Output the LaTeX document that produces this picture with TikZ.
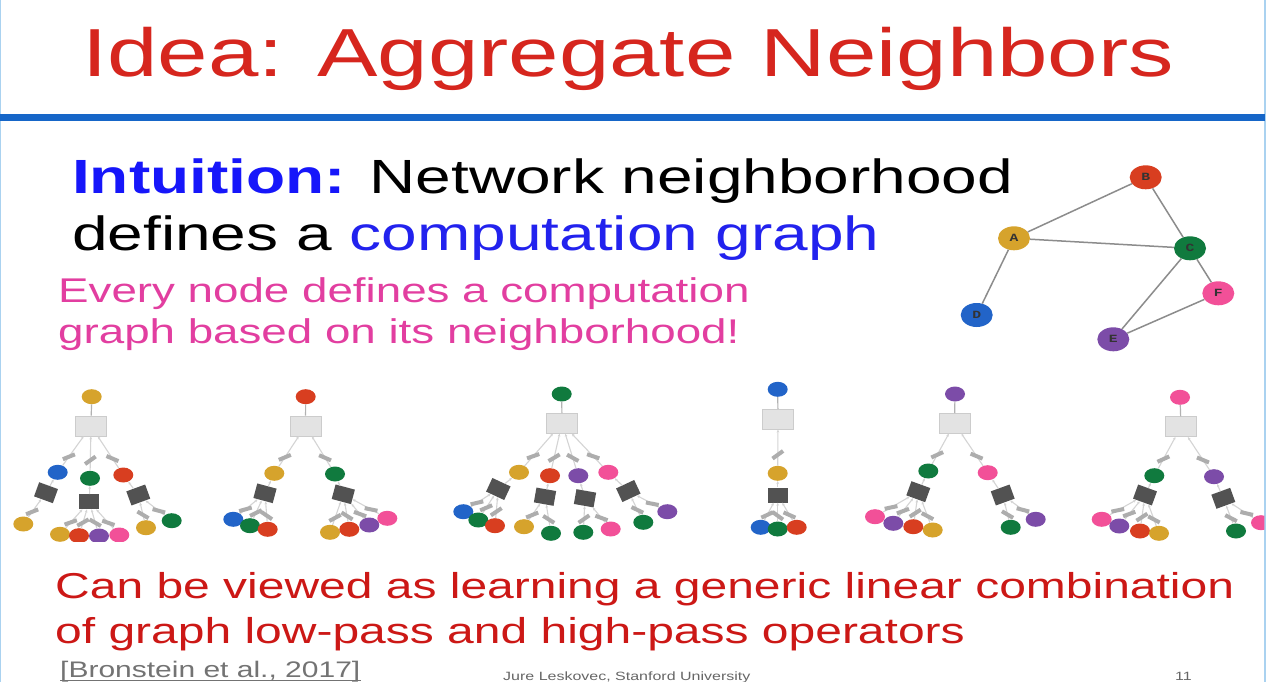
\documentclass[tikz,border=0pt]{standalone}
\usepackage{fontspec}
\setmainfont{Liberation Sans}[FakeStretch=1.333]
\newfontfamily\lblfont{Liberation Mono}[FakeStretch=1.333]
\usetikzlibrary{shapes.geometric,arrows.meta,calc}

\definecolor{cgold}{RGB}{214,163,44}
\definecolor{cred}{RGB}{216,62,32}
\definecolor{cgreen}{RGB}{16,122,62}
\definecolor{cblue}{RGB}{34,100,200}
\definecolor{cpurple}{RGB}{124,76,168}
\definecolor{cpink}{RGB}{242,80,152}
\definecolor{titlered}{RGB}{214,38,30}
\definecolor{textred}{RGB}{204,24,22}
\definecolor{introblue}{RGB}{22,22,250}
\definecolor{compblue}{RGB}{34,34,238}
\definecolor{textpink}{RGB}{226,62,160}
\definecolor{rulebblue}{RGB}{22,102,200}
\definecolor{edgelightblue}{RGB}{170,210,240}

% tree node helpers
\newcommand\tnode[4]{\node[cn,fill=#2] (#1) at (#3,#4) {};}
\newcommand\sqnode[4]{\node[sq,rotate=#4] (#1) at (#2,#3) {};}
% weighted link with a small bar, tilted part way along the link direction
\newcommand\lnk[2]{\draw[tedge] let \p1=($(#2)-(#1)$), \n1={atan2(\y1,\x1)},
  \n2={0.4*(\n1+180*(\n1<-90)-180*(\n1>90))} in (#1) -- node[tbar,rotate=\n2]{} (#2);}
\newcommand\slnk[2]{\draw[tedge] (#1) -- (#2);}

\begin{document}
\begin{tikzpicture}[x=1pt,y=-1pt,
  txt/.style={inner sep=0pt,anchor=base west},
  cn/.style={ellipse,minimum width=20,minimum height=15,inner sep=0pt},
  gnode/.style={ellipse,minimum width=32,minimum height=24,inner sep=0pt,
    font=\lblfont\bfseries\fontsize{11}{11}\selectfont,text=black!80},
  gedge/.style={draw=black!45,line width=1.5pt},
  lrect/.style={rectangle,minimum width=31,minimum height=20,fill=black!11,draw=black!20,line width=0.6pt},
  sq/.style={rectangle,minimum width=20,minimum height=15,fill=black!68,inner sep=0pt},
  tbar/.style={rectangle,minimum width=13,minimum height=4,inner sep=0pt,fill=black!32,pos=0.7},
  tedge/.style={draw=black!17,line width=1.1pt,{Stealth[length=3pt,width=2.6pt]}-},
  rootln/.style={draw=black!30,line width=1.2pt}]

\useasboundingbox (0,0) rectangle (1268,682);
\fill[white] (0,0) rectangle (1268,682);
% frame and rule
\draw[edgelightblue,line width=1.2pt] (0.6,0) -- (0.6,682);
\draw[edgelightblue,line width=1.2pt] (1265,0) -- (1265,682);
\fill[rulebblue] (0,114) rectangle (1265,121);

% title
\node[inner sep=0pt,anchor=base,text=titlered,font=\fontsize{68}{68}\selectfont] (title) at (628,77) {Idea: Aggregate Neighbors};

% body text
\node[txt,font=\fontsize{48}{48}\selectfont] (l1) at (72,193) {\textcolor{introblue}{\bfseries Intuition:} Network neighborhood};
\node[txt,font=\fontsize{48}{48}\selectfont] (l2) at (72,250) {defines a \textcolor{compblue}{computation graph}};
\node[txt,text=textpink,font=\fontsize{34.3}{34.3}\selectfont] (p1) at (58,302) {Every node defines a computation};
\node[txt,text=textpink,font=\fontsize{34.3}{34.3}\selectfont] (p2) at (58,343) {graph based on its neighborhood!};
\node[txt,text=textred,font=\fontsize{36}{36}\selectfont] (r1) at (55,598) {Can be viewed as learning a generic linear combination};
\node[txt,text=textred,font=\fontsize{36}{36}\selectfont] (r2) at (55,643) {of graph low-pass and high-pass operators};
\node[txt,text=black!55,font=\fontsize{22.5}{22.5}\selectfont] (cite) at (60,677) {[Bronstein et al., 2017]};
\draw[black!55,line width=1pt] ($(cite.base west)+(0,3)$) -- ($(cite.base east)+(0,3)$);
\node[txt,text=black!60,font=\fontsize{12}{12}\selectfont] (auth) at (503,680) {Jure Leskovec, Stanford University};
\node[txt,text=black!60,font=\fontsize{12}{12}\selectfont] (pg) at (1175,680) {11};

% input graph
\node[gnode,fill=cred] (B) at (1145.7,177.3) {B};
\node[gnode,fill=cgold] (A) at (1014,238.3) {A};
\node[gnode,fill=cgreen] (C) at (1190,248.3) {C};
\node[gnode,fill=cpink] (F) at (1218.3,293.3) {F};
\node[gnode,fill=cblue] (D) at (976.7,315) {D};
\node[gnode,fill=cpurple] (E) at (1113.3,339.3) {E};
\draw[gedge] (A) -- (B);
\draw[gedge] (A) -- (C);
\draw[gedge] (B) -- (C);
\draw[gedge] (A) -- (D);
\draw[gedge] (C) -- (F);
\draw[gedge] (C) -- (E);
\draw[gedge] (E) -- (F);

\begin{scope}
\clip (1.5,375) rectangle (1264.4,541);
% ---- tree rooted at A
\tnode{ar}{cgold}{91.7}{396.7}
\node[lrect] (am) at (91,426) {};
\draw[rootln] (ar) -- (am);
\tnode{a1}{cblue}{57.7}{472.3}
\tnode{a2}{cgreen}{90}{478.3}
\tnode{a3}{cred}{123.3}{475}
\lnk{am}{a1}\lnk{am}{a2}\lnk{am}{a3}
\sqnode{a1s}{46}{492.7}{-20}
\sqnode{a2s}{89.3}{501.7}{0}
\sqnode{a3s}{138.3}{495}{20}
\slnk{a1}{a1s}\slnk{a2}{a2s}\slnk{a3}{a3s}
\tnode{a11}{cgold}{23.3}{524}
\tnode{a21}{cgold}{60}{534.3}
\tnode{a22}{cred}{79}{535.7}
\tnode{a23}{cpurple}{99}{536}
\tnode{a24}{cpink}{119.3}{535}
\tnode{a31}{cgold}{146}{527.7}
\tnode{a32}{cgreen}{171.7}{520.7}
\lnk{a1s}{a11}
\lnk{a2s}{a21}\lnk{a2s}{a22}\lnk{a2s}{a23}\lnk{a2s}{a24}
\lnk{a3s}{a31}\lnk{a3s}{a32}

% ---- tree rooted at B
\tnode{br}{cred}{305.7}{396.7}
\node[lrect] (bm) at (305.5,426) {};
\draw[rootln] (br) -- (bm);
\tnode{b1}{cgold}{274.3}{473.3}
\tnode{b2}{cgreen}{335}{474}
\lnk{bm}{b1}\lnk{bm}{b2}
\sqnode{b1s}{265}{493.3}{-15}
\sqnode{b2s}{343.3}{494.3}{-15}
\slnk{b1}{b1s}\slnk{b2}{b2s}
\tnode{b11}{cblue}{233.3}{519.3}
\tnode{b12}{cgreen}{250}{525.7}
\tnode{b13}{cred}{267.7}{529.3}
\tnode{b21}{cgold}{330}{532.3}
\tnode{b22}{cred}{349.3}{529.3}
\tnode{b23}{cpurple}{369.3}{525}
\tnode{b24}{cpink}{387.3}{518.3}
\lnk{b1s}{b11}\lnk{b1s}{b12}\lnk{b1s}{b13}
\lnk{b2s}{b21}\lnk{b2s}{b22}\lnk{b2s}{b23}\lnk{b2s}{b24}

% ---- tree rooted at C
\tnode{cr}{cgreen}{561.7}{394}
\node[lrect] (cm) at (562,423.3) {};
\draw[rootln] (cr) -- (cm);
\tnode{c1}{cgold}{519}{472.3}
\tnode{c2}{cred}{550}{475.7}
\tnode{c3}{cpurple}{578.3}{475.7}
\tnode{c4}{cpink}{608.3}{472.3}
\lnk{cm}{c1}\lnk{cm}{c2}\lnk{cm}{c3}\lnk{cm}{c4}
\sqnode{c1s}{498.3}{489}{-25}
\sqnode{c2s}{545}{496.7}{-10}
\sqnode{c3s}{585}{498.3}{-10}
\sqnode{c4s}{628.3}{491}{25}
\slnk{c1}{c1s}\slnk{c2}{c2s}\slnk{c3}{c3s}\slnk{c4}{c4s}
\tnode{c11}{cblue}{463.3}{511.7}
\tnode{c12}{cgreen}{478.3}{520}
\tnode{c13}{cred}{495}{525.7}
\tnode{c21}{cgold}{524}{526.7}
\tnode{c22}{cgreen}{551}{533.3}
\tnode{c31}{cgreen}{583.3}{532.3}
\tnode{c32}{cpink}{610.7}{529}
\tnode{c41}{cgreen}{643.3}{522.3}
\tnode{c42}{cpurple}{667.3}{511.7}
\lnk{c1s}{c11}\lnk{c1s}{c12}\lnk{c1s}{c13}
\lnk{c2s}{c21}\lnk{c2s}{c22}
\lnk{c3s}{c31}\lnk{c3s}{c32}
\lnk{c4s}{c41}\lnk{c4s}{c42}

% ---- tree rooted at D
\tnode{dr}{cblue}{777.7}{389.3}
\node[lrect] (dm) at (778,419.2) {};
\draw[rootln] (dr) -- (dm);
\tnode{d1}{cgold}{777.7}{473.3}
\lnk{dm}{d1}
\sqnode{d1s}{777.7}{495}{0}
\slnk{d1}{d1s}
\tnode{d11}{cblue}{760.7}{527.3}
\tnode{d12}{cgreen}{777.7}{529}
\tnode{d13}{cred}{796.7}{527.3}
\lnk{d1s}{d11}\lnk{d1s}{d12}\lnk{d1s}{d13}

% ---- tree rooted at E
\tnode{er}{cpurple}{955}{394}
\node[lrect] (em) at (954.5,423.3) {};
\draw[rootln] (er) -- (em);
\tnode{e1}{cgreen}{928.3}{471}
\tnode{e2}{cpink}{987.7}{472.7}
\lnk{em}{e1}\lnk{em}{e2}
\sqnode{e1s}{918.3}{491.7}{-20}
\sqnode{e2s}{1002.7}{495}{20}
\slnk{e1}{e1s}\slnk{e2}{e2s}
\tnode{e11}{cpink}{875}{516.7}
\tnode{e12}{cpurple}{893.3}{523.3}
\tnode{e13}{cred}{913.3}{526.7}
\tnode{e14}{cgold}{932.7}{530}
\tnode{e21}{cgreen}{1010.7}{527.3}
\tnode{e22}{cpurple}{1035.7}{519.3}
\lnk{e1s}{e11}\lnk{e1s}{e12}\lnk{e1s}{e13}\lnk{e1s}{e14}
\lnk{e2s}{e21}\lnk{e2s}{e22}

% ---- tree rooted at F
\tnode{fr}{cpink}{1180}{397.3}
\node[lrect] (fm) at (1181,426.7) {};
\draw[rootln] (fr) -- (fm);
\tnode{f1}{cgreen}{1154.3}{475.7}
\tnode{f2}{cpurple}{1214}{476.7}
\lnk{fm}{f1}\lnk{fm}{f2}
\sqnode{f1s}{1145}{495}{-20}
\sqnode{f2s}{1223.3}{498.3}{20}
\slnk{f1}{f1s}\slnk{f2}{f2s}
\tnode{f11}{cpink}{1101.7}{519.3}
\tnode{f12}{cpurple}{1119.3}{526}
\tnode{f13}{cred}{1140}{531}
\tnode{f14}{cgold}{1159}{533.3}
\tnode{f21}{cgreen}{1236}{531}
\tnode{f22}{cpink}{1261}{522.7}
\lnk{f1s}{f11}\lnk{f1s}{f12}\lnk{f1s}{f13}\lnk{f1s}{f14}
\lnk{f2s}{f21}\lnk{f2s}{f22}
\end{scope}
\end{tikzpicture}
\end{document}
